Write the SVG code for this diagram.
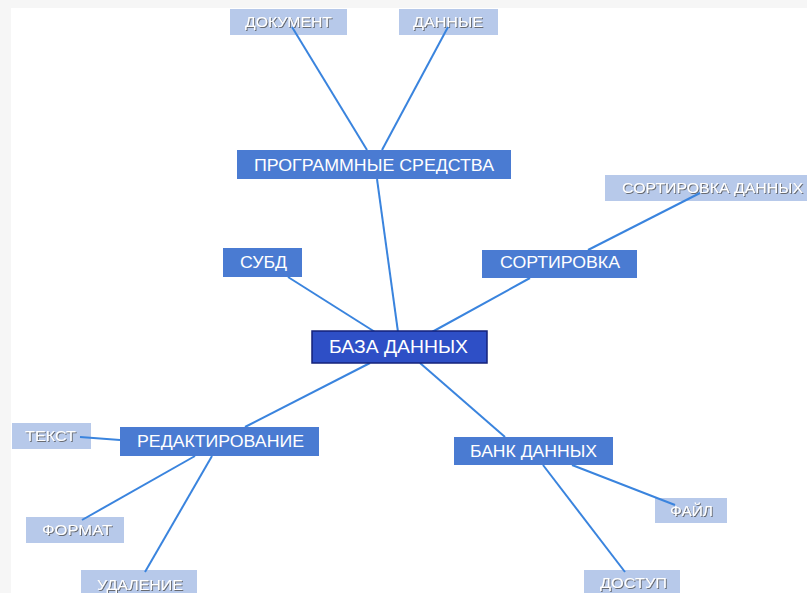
<svg xmlns="http://www.w3.org/2000/svg" width="807" height="593" viewBox="0 0 807 593">
<defs>
<filter id="sh" x="-10%" y="-30%" width="120%" height="160%">
<feDropShadow dx="1" dy="1" stdDeviation="0.6" flood-color="#555" flood-opacity="0.8"/>
</filter>
</defs>
<style>
.dark rect{fill:#4a7bd2}
.light rect{fill:#b7c9ea}
.center rect{fill:#2e4fc6;stroke:#15227a;stroke-width:1.5}
text{font-family:"Liberation Sans",Arial,sans-serif;fill:#ffffff;text-anchor:middle}
.dark text{font-size:16px}
.center text{font-size:18px}
.light text{font-size:14px;filter:url(#sh)}
#connectors line{stroke:#3a84de;stroke-width:2}
</style>
<rect width="807" height="593" fill="#f6f6f6"/>
<rect x="11" y="8" width="796" height="585" fill="#ffffff"/>
<g id="n-dokument" class="light"><rect x="230" y="9" width="117" height="26"/><text x="288.5" y="27" textLength="87" lengthAdjust="spacingAndGlyphs">ДОКУМЕНТ</text></g>
<g id="n-dannye" class="light"><rect x="399" y="9" width="99" height="26"/><text x="448" y="27" textLength="70" lengthAdjust="spacingAndGlyphs">ДАННЫЕ</text></g>
<g id="n-sort-dannyh" class="light"><rect x="605" y="175" width="202" height="26"/><text x="712.5" y="193" textLength="181" lengthAdjust="spacingAndGlyphs">СОРТИРОВКА ДАННЫХ</text></g>
<g id="n-tekst" class="light"><rect x="12" y="423" width="79" height="26"/><text x="50.5" y="441" textLength="51" lengthAdjust="spacingAndGlyphs">ТЕКСТ</text></g>
<g id="n-format" class="light"><rect x="26" y="517" width="98" height="26"/><text x="77" y="535" textLength="70" lengthAdjust="spacingAndGlyphs">ФОРМАТ</text></g>
<g id="n-udalenie" class="light"><rect x="81" y="570" width="116" height="26"/><text x="140" y="590" textLength="86" lengthAdjust="spacingAndGlyphs">УДАЛЕНИЕ</text></g>
<g id="n-fail" class="light"><rect x="655" y="498" width="72" height="25"/><text x="691.5" y="516" textLength="43" lengthAdjust="spacingAndGlyphs">ФАЙЛ</text></g>
<g id="n-dostup" class="light"><rect x="584" y="570" width="96" height="26"/><text x="633.5" y="588" textLength="67" lengthAdjust="spacingAndGlyphs">ДОСТУП</text></g>
<g id="connectors">
<line x1="292" y1="27" x2="367" y2="150"/>
<line x1="448" y1="27" x2="382" y2="150"/>
<line x1="377" y1="179" x2="398" y2="332"/>
<line x1="700" y1="193" x2="588" y2="250"/>
<line x1="530" y1="278" x2="432" y2="332"/>
<line x1="288" y1="277" x2="375" y2="332"/>
<line x1="245" y1="427" x2="370" y2="363"/>
<line x1="80" y1="437" x2="120" y2="440"/>
<line x1="195" y1="456" x2="82" y2="520"/>
<line x1="212" y1="456" x2="145" y2="572"/>
<line x1="420" y1="363" x2="505" y2="437"/>
<line x1="572" y1="465" x2="675" y2="505"/>
<line x1="543" y1="465" x2="625" y2="572"/>
</g>
<g id="n-programmnye" class="dark"><rect x="237" y="150" width="274" height="29"/><text x="374" y="171" textLength="240" lengthAdjust="spacingAndGlyphs">ПРОГРАММНЫЕ СРЕДСТВА</text></g>
<g id="n-sortirovka" class="dark"><rect x="482" y="250" width="155" height="28"/><text x="560" y="268" textLength="120" lengthAdjust="spacingAndGlyphs">СОРТИРОВКА</text></g>
<g id="n-subd" class="dark"><rect x="223" y="248" width="79" height="29"/><text x="263.5" y="268" textLength="47" lengthAdjust="spacingAndGlyphs">СУБД</text></g>
<g id="n-baza" class="center"><rect x="312" y="331" width="175" height="32"/><text x="398.5" y="353" textLength="139" lengthAdjust="spacingAndGlyphs">БАЗА ДАННЫХ</text></g>
<g id="n-redakt" class="dark"><rect x="120" y="427" width="199" height="29"/><text x="220.5" y="447" textLength="167" lengthAdjust="spacingAndGlyphs">РЕДАКТИРОВАНИЕ</text></g>
<g id="n-bank" class="dark"><rect x="454" y="437" width="159" height="28"/><text x="533.5" y="457" textLength="127" lengthAdjust="spacingAndGlyphs">БАНК ДАННЫХ</text></g>
</svg>
